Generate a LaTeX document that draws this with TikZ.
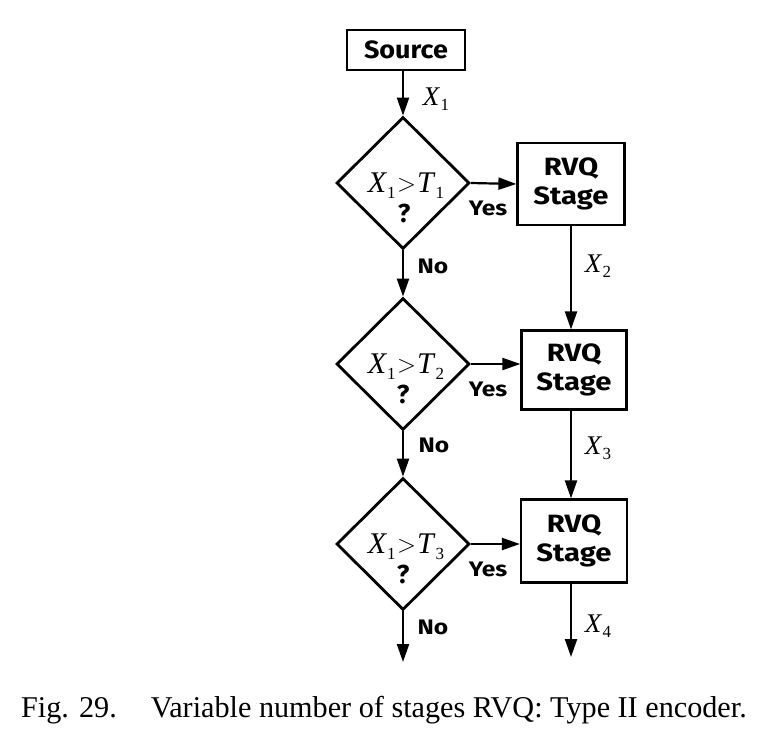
\documentclass[tikz,border=0pt]{standalone}
\usepackage{graphicx}
\usepackage{fontspec}
\setmainfont{Liberation Serif}
\newfontfamily\labfont{Fira Sans}
\usetikzlibrary{shapes.geometric,arrows.meta}
\newcommand{\sx}[1]{\scalebox{1.17}[1]{#1}}
\tikzset{
  boxnode/.style={draw,line width=2.2pt,inner sep=0pt,font=\labfont\bfseries\fontsize{25}{29}\selectfont,align=center},
  decnode/.style={draw,diamond,line width=2.8pt,inner sep=0pt,minimum width=133pt,minimum height=132pt},
  flow/.style={line width=2.2pt,-{Triangle[length=18pt,width=12pt]}},
  yn/.style={font=\labfont\bfseries\fontsize{21}{24}\selectfont,inner sep=0pt},
  var/.style={font=\fontsize{27}{30}\selectfont,inner sep=0pt},
  cond/.style={font=\fontsize{30}{32}\selectfont,inner sep=0pt},
  qm/.style={font=\labfont\bfseries\fontsize{26}{28}\selectfont,inner sep=0pt}
}
\newcommand{\vx}[1]{\textit{X}\kern0.5pt\raisebox{-5pt}{\fontsize{17}{20}\selectfont #1}}
\newcommand{\cx}[2]{\textit{X}\raisebox{-6pt}{\fontsize{17}{20}\selectfont 1}\kern1.5pt\raisebox{1.5pt}{$>$}\kern1pt\textit{T}\raisebox{-6pt}{\fontsize{17}{20}\selectfont #2}}
\begin{document}
\begin{tikzpicture}[x=1pt,y=-1pt]
\useasboundingbox (0,0) rectangle (770,752);
% source
\node[boxnode,minimum width=118pt,minimum height=40pt] (src) at (406,50) {\scalebox{1.08}[1]{Source}};
% decisions
\node[decnode] (d1) at (403,183) {};
\node[decnode] (d2) at (403,364) {};
\node[decnode] (d3) at (403,544) {};
\node[cond] (c1) at (406,186) {\cx{1}{1}};
\node[cond] (c2) at (406,367) {\cx{1}{2}};
\node[cond] (c3) at (406,547) {\cx{1}{3}};
\node[qm] (q1) at (404,213) {?};
\node[qm] (q2) at (403,394) {?};
\node[qm] (q3) at (403,574) {?};
% RVQ stages
\node[boxnode,minimum width=107pt,minimum height=82pt] (r1) at (571,184) {\sx{RVQ}\\\sx{Stage}};
\node[boxnode,minimum width=105pt,minimum height=79pt] (r2) at (574,370) {\sx{RVQ}\\\sx{Stage}};
\node[boxnode,minimum width=106pt,minimum height=83pt] (r3) at (574,541) {\sx{RVQ}\\\sx{Stage}};
% free ends
\coordinate (e1) at (403,662);
\coordinate (e2) at (571,657);
% connectors
\draw[flow] (src.south -| d1.north) -- (d1.north);
\draw[flow] (d1.east) -- (r1.west);
\draw[flow] (d2.east) -- (d2.east -| r2.west);
\draw[flow] (d3.east) -- (d3.east -| r3.west);
\draw[flow] (d1.south) -- (d2.north);
\draw[flow] (d2.south) -- (d3.north);
\draw[flow] (d3.south) -- (e1);
\draw[flow] (r1.south -| e2) -- (r2.north -| e2);
\draw[flow] (r2.south -| e2) -- (r3.north -| e2);
\draw[flow] (r3.south -| e2) -- (e2);
% labels
\node[var] (lx1) at (436,99) {\vx{1}};
\node[var] (lx2) at (598,266) {\vx{2}};
\node[var] (lx3) at (598,448) {\vx{3}};
\node[var] (lx4) at (598,626) {\vx{4}};
\node[yn] (y1) at (488,208) {\sx{Yes}};
\node[yn] (y2) at (488,389) {\sx{Yes}};
\node[yn] (y3) at (488,569) {\sx{Yes}};
\node[yn] (n1) at (433,266) {\sx{No}};
\node[yn] (n2) at (434,445) {\sx{No}};
\node[yn] (n3) at (433,627) {\sx{No}};
% caption
\node[anchor=base west,inner sep=0pt,font=\fontsize{30.2}{34}\selectfont] (cap) at (21,717) {Fig. 29.\hspace{34pt}Variable number of stages RVQ: Type II encoder.};
\end{tikzpicture}
\end{document}
